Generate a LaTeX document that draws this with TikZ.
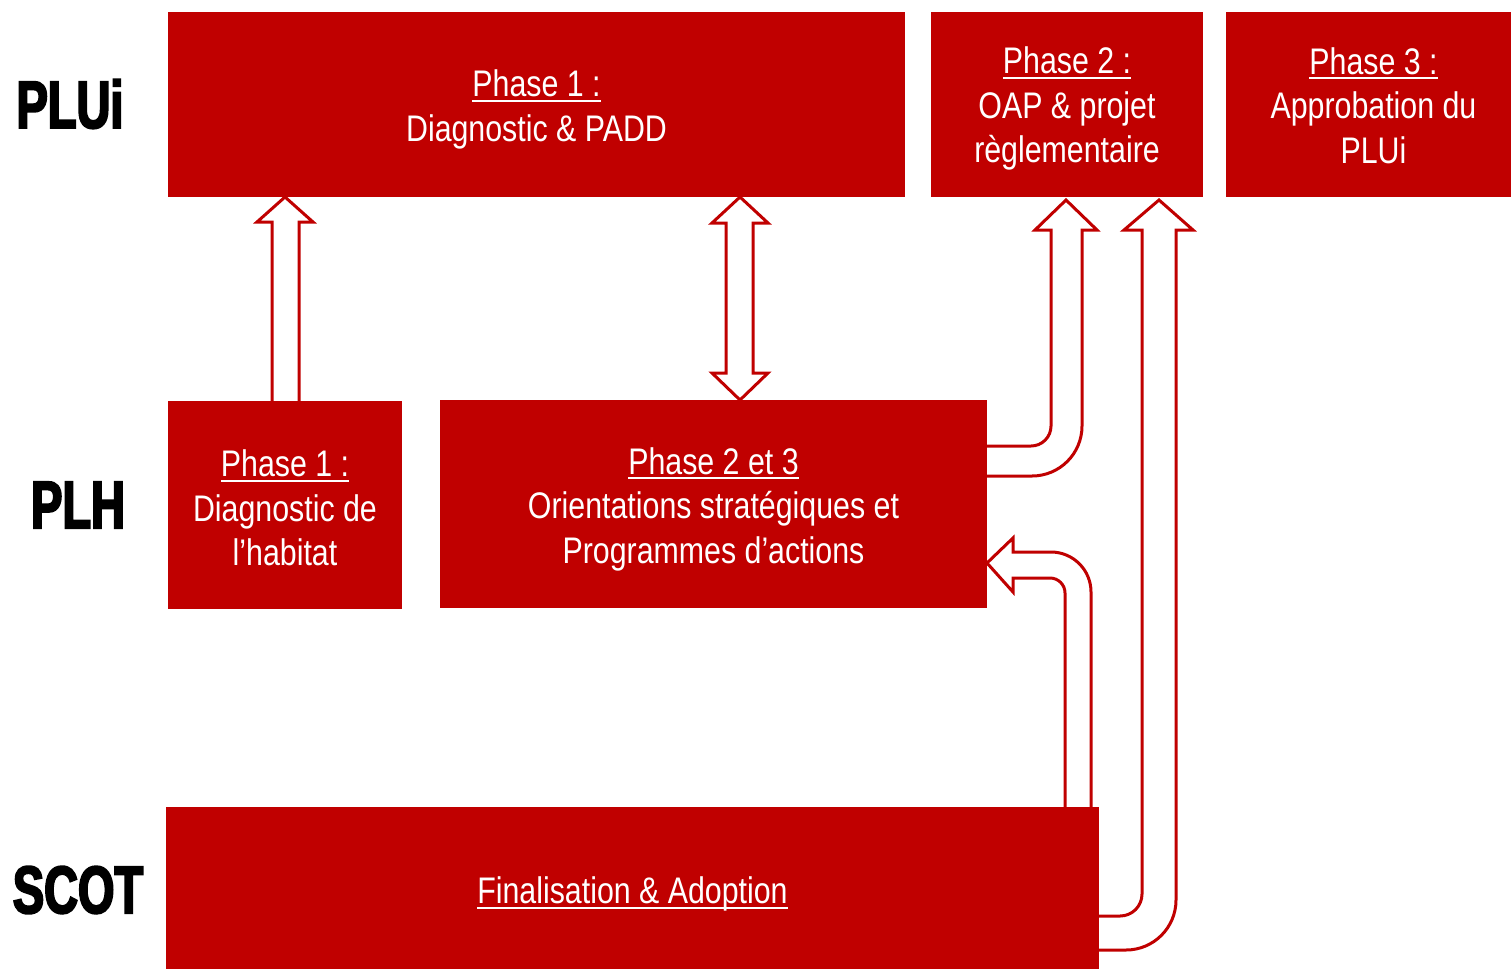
\documentclass[tikz,border=0pt]{standalone}
\usepackage{fontspec}
\setmainfont{Liberation Sans}[FakeStretch=0.82]
\newfontfamily\labfont{Liberation Sans}[FakeStretch=0.7,BoldFeatures={FakeBold=3}]
\newcommand\uln[1]{\setbox0\hbox{#1}\leavevmode\rlap{\rule[-5pt]{\wd0}{2pt}}\box0}
\definecolor{bred}{HTML}{C00000}
\tikzset{
  box/.style={fill=bred,inner sep=0pt},
  txt/.style={text=white,inner sep=0pt,align=center,
    font=\fontsize{37}{44.5}\selectfont},
  blockarrow/.style={draw=bred,fill=white,line width=3pt,line join=miter},
  rowlab/.style={font=\labfont\bfseries\fontsize{67}{70}\selectfont,inner sep=0pt}
}
\begin{document}
\begin{tikzpicture}[x=1pt,y=-1pt]
\useasboundingbox (0,0) rectangle (1511,970);
% block arrows (drawn first, boxes cover their ends)
\draw[blockarrow] (272,405) -- (272,222) -- (257,222) -- (285,197) -- (313,222) -- (299,222) -- (299,405) -- cycle;
\draw[blockarrow] (726,223) -- (712,223) -- (740,197) -- (768,223) -- (753,223) -- (753,373) -- (768,373) -- (740,400) -- (712,373) -- (726,373) -- cycle;
\draw[blockarrow] (980,446) -- (1031,446) arc[start angle=90,end angle=0,radius=20] -- (1051,230) -- (1035,230) -- (1066,200) -- (1097,230) -- (1082,230) -- (1082,426) arc[start angle=0,end angle=90,radius=50] -- (980,476) -- cycle;
\draw[blockarrow] (1090,916) -- (1120,916) arc[start angle=90,end angle=0,radius=22] -- (1142,230) -- (1124,230) -- (1159,200) -- (1193,230) -- (1176,230) -- (1176,900) arc[start angle=0,end angle=90,radius=50] -- (1090,950) -- cycle;
\draw[blockarrow] (1065,815) -- (1065,593) arc[start angle=0,end angle=-90,radius=15] -- (1013,578) -- (1013,592) -- (987,563) -- (1013,538) -- (1013,552) -- (1051,552) arc[start angle=-90,end angle=0,radius=40] -- (1091,815) -- cycle;
% boxes
\node[box,minimum width=737pt,minimum height=185pt] (p1) at (536.5,104.5) {};
\node[box,minimum width=272pt,minimum height=185pt] (p2) at (1067,104.5) {};
\node[box,minimum width=285pt,minimum height=185pt] (p3) at (1368.5,104.5) {};
\node[box,minimum width=234pt,minimum height=208pt] (h1) at (285,505) {};
\node[box,minimum width=547pt,minimum height=208pt] (h23) at (713.5,504) {};
\node[box,minimum width=933pt,minimum height=162pt] (s) at (632.5,888) {};
% texts
\node[txt] (t1) at ([yshift=-5pt]p1.center) {\uln{Phase 1 :}\\Diagnostic \& PADD};
\node[txt] (t2) at ([yshift=-4pt]p2.center) {\uln{Phase 2 :}\\OAP \& projet\\règlementaire};
\node[txt] (t3) at ([xshift=5pt,yshift=-1pt]p3.center) {\uln{Phase 3 :}\\Approbation du\\PLUi};
\node[txt] (t4) at ([yshift=-3pt]h1.center) {\uln{Phase 1 :}\\Diagnostic de\\l’habitat};
\node[txt] (t5) at ([yshift=-5pt]h23.center) {\uln{Phase 2 et 3}\\Orientations stratégiques et\\Programmes d’actions};
\node[txt] (t6) at ([yshift=-6pt]s.center) {\uln{Finalisation \& Adoption}};
% row labels
\node[rowlab] (lp) at (70,104) {PLUi};
\node[rowlab] (lh) at (78,505) {PLH};
\node[rowlab] (ls) at (78,890) {SCOT};
\end{tikzpicture}
\end{document}
